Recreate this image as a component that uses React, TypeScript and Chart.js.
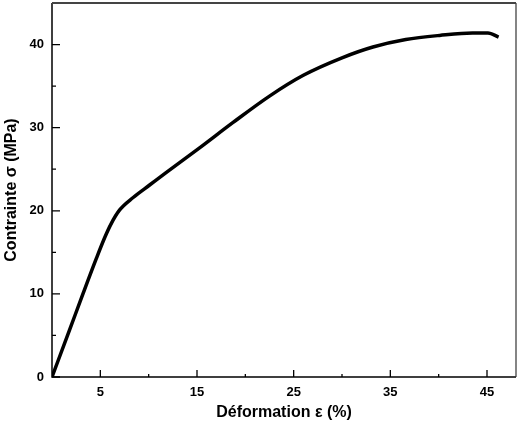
import React, { useEffect, useRef } from "react";
import { Chart, registerables } from "chart.js";

Chart.register(...registerables);

const strainPct: number[] = [0, 1.8, 3.2, 4.6, 5.5, 6.1, 7.0, 8.4, 10.1, 11.8, 15.3, 18.7, 22.5, 26.0, 30.0, 33.2, 36.6, 40.1, 43.5, 45.1, 46.2];
const stressMPa: number[] = [0, 5.6, 10.0, 14.3, 16.9, 18.4, 20.1, 21.6, 23.1, 24.6, 27.6, 30.6, 33.8, 36.3, 38.4, 39.7, 40.6, 41.1, 41.4, 41.4, 40.9];
const xMajorTicks: number[] = [5, 15, 25, 35, 45];
const xMinorTicks: number[] = [10, 20, 30, 40];
const yMajorTicks: number[] = [0, 10, 20, 30, 40];
const yMinorTicks: number[] = [5, 15, 25, 35];

const FONT = "'Liberation Sans', Arial, sans-serif";

const framePlugin = {
  id: "frame",
  afterDraw(chart: any) {
    const { ctx, chartArea: a, scales } = chart;
    const xs = scales.x, ys = scales.y;
    ctx.save();
    ctx.strokeStyle = "#000";
    ctx.lineCap = "butt";
    ctx.lineWidth = 1.3;
    ctx.beginPath();
    xMajorTicks.forEach((v) => { const p = xs.getPixelForValue(v); ctx.moveTo(p, a.bottom); ctx.lineTo(p, a.bottom - 7); });
    xMinorTicks.forEach((v) => { const p = xs.getPixelForValue(v); ctx.moveTo(p, a.bottom); ctx.lineTo(p, a.bottom - 3); });
    yMajorTicks.forEach((v) => { const p = ys.getPixelForValue(v); ctx.moveTo(a.left, p); ctx.lineTo(a.left + 8, p); });
    yMinorTicks.forEach((v) => { const p = ys.getPixelForValue(v); ctx.moveTo(a.left, p); ctx.lineTo(a.left + 4, p); });
    ctx.stroke();
    ctx.lineWidth = 1.5;
    ctx.beginPath();
    ctx.moveTo(a.left, a.top); ctx.lineTo(a.left, a.bottom); ctx.lineTo(a.right, a.bottom);
    ctx.stroke();
    ctx.strokeStyle = "#333";
    ctx.lineWidth = 1.2;
    ctx.beginPath();
    ctx.moveTo(a.right, a.bottom); ctx.lineTo(a.right, a.top);
    ctx.stroke();
    ctx.strokeStyle = "#444";
    ctx.lineWidth = 2;
    ctx.beginPath();
    ctx.moveTo(a.left, a.top); ctx.lineTo(a.right, a.top);
    ctx.stroke();
    ctx.restore();
  },
};

export default function App() {
  const ref = useRef<HTMLCanvasElement | null>(null);
  useEffect(() => {
    if (!ref.current) return;
    const data = strainPct.map((x, i) => ({ x, y: stressMPa[i] }));
    const chart = new Chart(ref.current, {
      type: "scatter",
      data: {
        datasets: [
          {
            data,
            showLine: true,
            borderColor: "#000",
            borderWidth: 3.5,
            pointRadius: 0,
            cubicInterpolationMode: "monotone",
            fill: false,
          } as any,
        ],
      },
      options: {
        animation: false,
        responsive: false,
        maintainAspectRatio: false,
        layout: { padding: { top: 3, right: 11, left: 0, bottom: 0 } },
        plugins: { legend: { display: false }, tooltip: { enabled: false } },
        scales: {
          x: {
            type: "linear",
            min: 0,
            max: 48,
            grid: { display: false, drawTicks: false },
            border: { display: false },
            afterBuildTicks: (s: any) => { s.ticks = xMajorTicks.map((v) => ({ value: v })); },
            afterFit: (s: any) => { s.height = 47; s.paddingLeft = 0; s.paddingRight = 0; },
            ticks: {
              color: "#000",
              padding: 8,
              maxRotation: 0,
              font: { family: FONT, size: 13, weight: "bold" },
            },
            title: {
              display: true,
              text: "Déformation ε (%)",
              color: "#000",
              padding: { top: 0, bottom: 2 },
              font: { family: FONT, size: 16, weight: "bold" },
            },
          },
          y: {
            type: "linear",
            min: 0,
            max: 45,
            grid: { display: false, drawTicks: false },
            border: { display: false },
            afterBuildTicks: (s: any) => { s.ticks = yMajorTicks.map((v) => ({ value: v })); },
            afterFit: (s: any) => { s.width = 52; s.paddingTop = 0; s.paddingBottom = 0; },
            ticks: {
              color: "#000",
              padding: 8,
              font: { family: FONT, size: 13, weight: "bold" },
            },
            title: {
              display: true,
              text: "Contrainte σ (MPa)",
              color: "#000",
              padding: { top: 2, bottom: 0 },
              font: { family: FONT, size: 16, weight: "bold" },
            },
          },
        },
      },
      plugins: [framePlugin],
    });
    return () => chart.destroy();
  }, []);
  return (
    <div style={{ position: "fixed", left: 0, top: 0, width: 527, height: 424, background: "#fff" }}>
      <canvas ref={ref} width={527} height={424} style={{ display: "block", width: 527, height: 424 }} />
    </div>
  );
}
